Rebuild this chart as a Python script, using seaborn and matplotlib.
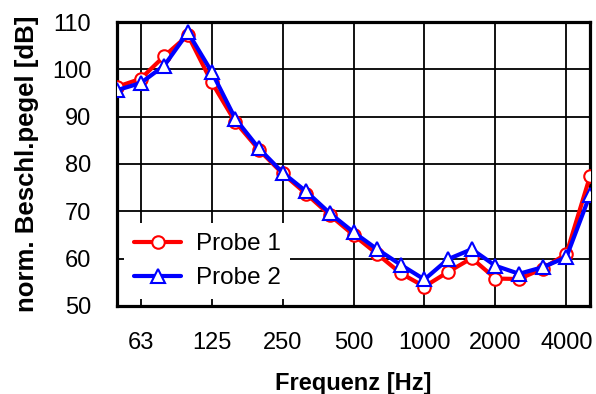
import matplotlib
matplotlib.use("Agg")
import matplotlib.pyplot as plt
import seaborn as sns
import pandas as pd
import numpy as np

freqs = [50, 63, 80, 100, 125, 160, 200, 250, 315, 400, 500, 630, 800,
         1000, 1250, 1600, 2000, 2500, 3150, 4000, 5000]
probe1 = [96.3, 98.0, 102.8, 107.2, 97.3, 88.9, 83.0, 78.0, 73.7, 69.2, 65.0,
          61.0, 56.9, 54.1, 57.2, 60.1, 55.8, 55.7, 57.9, 61.0, 77.4]
probe2 = [95.6, 97.1, 100.8, 107.8, 99.5, 89.6, 83.3, 78.2, 74.2, 69.6, 65.6,
          62.0, 58.7, 55.6, 59.9, 62.0, 58.5, 56.8, 58.2, 60.3, 73.5]
tick_labels = ["63", "125", "250", "500", "1000", "2000", "4000"]
tick_freqs = [63, 125, 250, 500, 1000, 2000, 4000]

sns.set_style("white")
plt.rcParams['font.family'] = ['Liberation Sans', 'DejaVu Sans']
plt.rcParams.update({"text.color": "black", "axes.labelcolor": "black",
                     "xtick.color": "black", "ytick.color": "black"})

idx = np.arange(len(freqs))
df = pd.DataFrame({
    "idx": np.concatenate([idx, idx]),
    "val": probe1 + probe2,
    "Probe": ["Probe 1"] * len(freqs) + ["Probe 2"] * len(freqs),
})

fig = plt.figure(figsize=(5.96, 3.94), dpi=100)
ax = fig.add_axes([117 / 596, 1 - 306 / 394, (590 - 117) / 596, (306 - 22) / 394])

colors = ["#ff0000", "#0000ff"]
sizes = [9, 10]
sns.lineplot(data=df, x="idx", y="val", hue="Probe", style="Probe",
             palette={"Probe 1": colors[0], "Probe 2": colors[1]},
             markers={"Probe 1": "o", "Probe 2": "^"}, dashes=False,
             linewidth=3.0, markersize=10, markerfacecolor="white",
             markeredgewidth=1.5, ax=ax, zorder=3)
for line, col, ms in zip(ax.get_lines(), colors, sizes):
    line.set_markeredgecolor(col)
    line.set_markersize(ms)

ax.set_xlim(0, len(freqs) - 1)
ax.set_ylim(50, 110)
ax.set_yticks(np.arange(50, 111, 10))
ax.set_xticks([freqs.index(f) for f in tick_freqs])
ax.set_xticklabels(tick_labels)
ax.tick_params(axis="x", labelsize=17, length=0, pad=18.5)
ax.tick_params(axis="y", labelsize=17, length=0, pad=18.5)
ax.grid(True, color="black", linewidth=1.3)
ax.set_axisbelow(True)
for s in ax.spines.values():
    s.set_visible(True)
    s.set_color("black")
    s.set_linewidth(2.3)

ax.set_xlabel("Frequenz [Hz]", fontsize=17, fontweight="bold", labelpad=13)
ax.set_ylabel("norm. Beschl.pegel [dB]", fontsize=18.5, fontweight="bold", labelpad=9)

leg = ax.legend(loc="lower left", bbox_to_anchor=(0.015, 0.025), fontsize=17.5,
                frameon=True, framealpha=1, edgecolor="white", fancybox=False,
                handlelength=1.95, handletextpad=0.6, borderpad=0.4,
                borderaxespad=0, labelspacing=0.5)
leg.get_frame().set_linewidth(0)
for h, col, ms in zip(leg.legend_handles, colors, sizes):
    h.set_markerfacecolor("white")
    h.set_markeredgecolor(col)
    h.set_markersize(ms)

fig.savefig("out.png", dpi=100)
